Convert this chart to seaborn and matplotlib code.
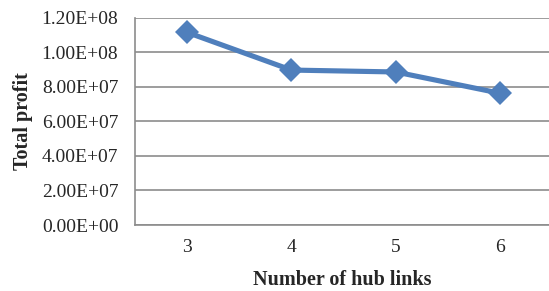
import numpy as np
import pandas as pd
import matplotlib
matplotlib.use('Agg')
import matplotlib.pyplot as plt
import seaborn as sns

hub_links = [3, 4, 5, 6]
total_profit = [1.114e8, 8.96e7, 8.85e7, 7.62e7]
y_ticks = [0, 2e7, 4e7, 6e7, 8e7, 1e8, 1.2e8]
y_tick_labels = ['0.00E+00', '2.00E+07', '4.00E+07', '6.00E+07', '8.00E+07', '1.00E+08', '1.20E+08']

df = pd.DataFrame({'hub_links': hub_links, 'total_profit': total_profit})

sns.set_style('white')
plt.rcParams['font.family'] = ['Liberation Serif', 'DejaVu Serif']

fig = plt.figure(figsize = (5.49, 2.91), dpi = 100)
ax = fig.add_axes([135 / 549, 1 - 225 / 291, 1 - 135 / 549, (225 - 17.5) / 291])

sns.lineplot(x = 'hub_links', y = 'total_profit', data = df, ax = ax,
             color = '#4F7FBC', linewidth = 3.7, marker = 'D', markersize = 12,
             markeredgewidth = 0)

ax.set_xlim(2.5, 6.47)
ax.set_ylim(0, 1.2e8)
ax.set_xticks(hub_links)
ax.set_xticklabels([str(h) for h in hub_links])
ax.set_yticks(y_ticks)
ax.set_yticklabels(y_tick_labels)
ax.yaxis.grid(True, color = '#8c8c8c', linewidth = 1.2)
ax.set_axisbelow(True)
for side in ['left', 'bottom']:
    ax.spines[side].set_color('#8c8c8c')
    ax.spines[side].set_linewidth(1.2)
for side in ['top', 'right']:
    ax.spines[side].set_visible(False)
ax.tick_params(axis = 'both', length = 0, labelsize = 14)
ax.tick_params(axis = 'y', pad = 12)
ax.tick_params(axis = 'x', pad = 10)
ax.set_xlabel('Number of hub links', fontsize = 14.5, fontweight = 'bold', labelpad = 10)
ax.set_ylabel('Total profit', fontsize = 14.5, fontweight = 'bold', labelpad = 6)

fig.savefig('out.png', dpi = 100)
